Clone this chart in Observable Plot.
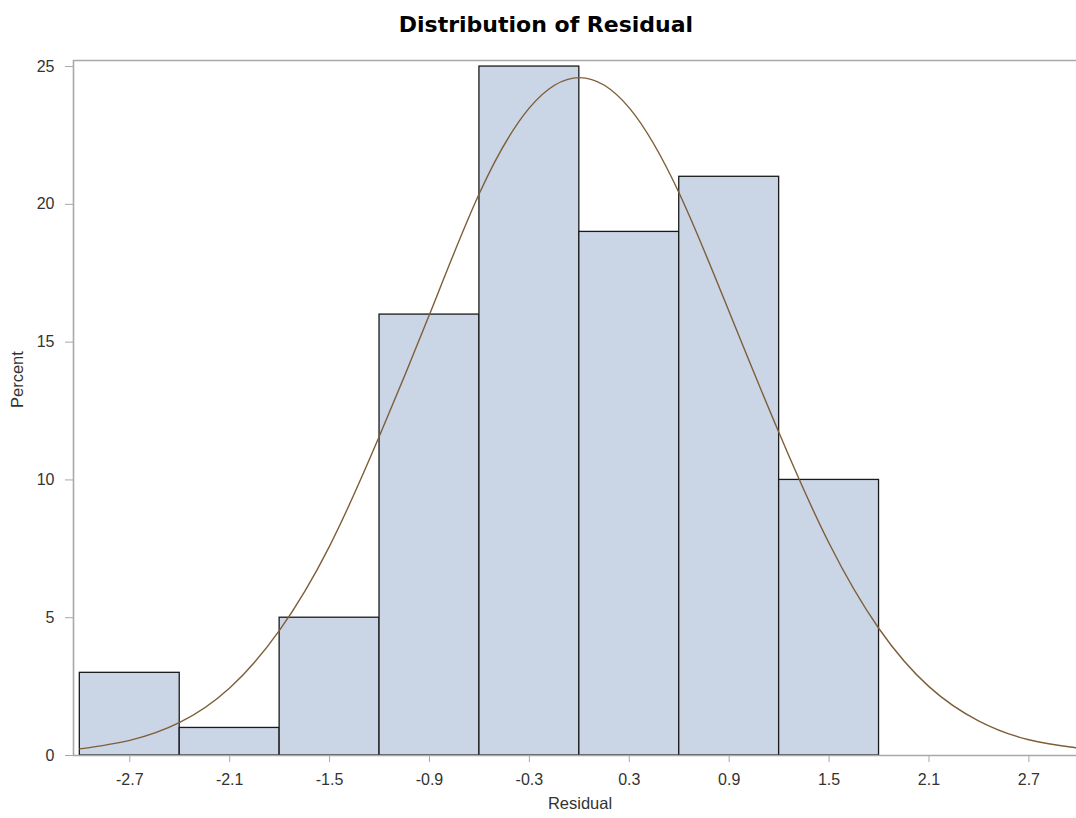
<!DOCTYPE html>
<html>
<head>
<meta charset="utf-8">
<script src="https://cdn.jsdelivr.net/npm/d3@7"></script>
<script src="https://cdn.jsdelivr.net/npm/@observablehq/plot@0.6"></script>
<style>
  body { margin: 0; background: #fff; font-family: "Liberation Sans", Arial, sans-serif; }
  #title { height: 50px; width: 1092px; text-align: center; font-family: "DejaVu Sans", sans-serif; font-size: 22px; font-weight: bold; line-height: 22px; padding-top: 14px; box-sizing: border-box; color: #000; }
  #chart svg { display: block; }
</style>
</head>
<body>
<div id="title">Distribution of Residual</div>
<div id="chart"></div>
<script>
// Histogram bins (left edge, right edge) and percent per bin
const binLeft  = [-3.0, -2.4, -1.8, -1.2, -0.6, 0.0, 0.6, 1.2];
const binRight = [-2.4, -1.8, -1.2, -0.6, 0.0, 0.6, 1.2, 1.8];
const percent  = [3, 1, 5, 16, 25, 19, 21, 10];

// Normal density curve
const curveX   = [-3.0, -2.7, -2.4, -2.1, -1.8, -1.5, -1.2, -0.9, -0.6, -0.3, 0.0, 0.3, 0.6, 0.9, 1.2, 1.5, 1.8, 2.1, 2.4, 2.7, 3.0];
const curvePct = [0.24, 0.55, 1.2, 2.45, 4.55, 7.6, 11.6, 16.0, 20.4, 23.5, 24.6, 23.5, 20.4, 16.1, 11.7, 7.7, 4.6, 2.5, 1.25, 0.57, 0.27];

// Axis ticks
const xTicks = [-2.7, -2.1, -1.5, -0.9, -0.3, 0.3, 0.9, 1.5, 2.1, 2.7];
const yTicks = [0, 5, 10, 15, 20, 25];

const bins = binLeft.map((l, i) => ({x1: l, x2: binRight[i], y: percent[i]}));
const curve = curveX.map((x, i) => ({x, y: curvePct[i]}));

const xDomain = [-3.038, 2.986];
const yDomain = [0, 25.22];
const axisColor = "#a8a8a8";
const textColor = "#333";

const chart = Plot.plot({
  width: 1076,
  height: 768,
  marginTop: 10,
  marginBottom: 63,
  marginLeft: 73,
  marginRight: 0,
  style: {fontFamily: "'Liberation Sans', Arial, sans-serif", background: "#fff"},
  x: {domain: xDomain},
  y: {domain: yDomain},
  marks: [
    Plot.rectY(bins, {x1: "x1", x2: "x2", y: "y", fill: "#CAD5E5", stroke: "#1a1a1a", strokeWidth: 1.3}),
    Plot.line(curve, {x: "x", y: "y", stroke: "#7E5E3A", strokeWidth: 1.4, curve: "natural"}),
    Plot.ruleY([yDomain[1]], {stroke: axisColor, strokeWidth: 1.6}),
    Plot.ruleY([0], {stroke: axisColor, strokeWidth: 1.6}),
    Plot.ruleX([xDomain[0]], {stroke: axisColor, strokeWidth: 1.6}),
    Plot.axisX({ticks: xTicks, tickFormat: d => d.toFixed(1), tickSize: 7, tickPadding: 11, fontSize: 16, stroke: axisColor, fill: textColor, label: null}),
    Plot.axisY({ticks: yTicks, tickFormat: d => String(d), tickSize: 8, tickPadding: 11, fontSize: 16, stroke: axisColor, fill: textColor, label: null}),
    Plot.text(["Percent"], {frameAnchor: "left", dx: -55.5, rotate: -90, fontSize: 16.5, fill: textColor}),
    Plot.text(["Residual"], {frameAnchor: "bottom", dy: 53, dx: 5, fontSize: 16.5, fill: textColor})
  ]
});
document.getElementById("chart").appendChild(chart);
</script>
</body>
</html>
